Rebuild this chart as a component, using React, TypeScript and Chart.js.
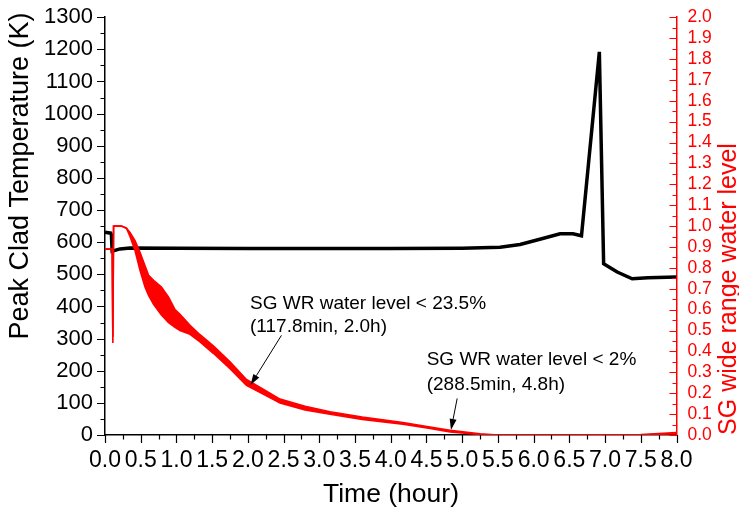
import React, { useEffect, useRef } from 'react';
import { Chart, registerables } from 'chart.js';

Chart.register(...registerables);

// ---- tick values ----
const timeTicks = [0, 0.5, 1, 1.5, 2, 2.5, 3, 3.5, 4, 4.5, 5, 5.5, 6, 6.5, 7, 7.5, 8];
const tempTicks = [0, 100, 200, 300, 400, 500, 600, 700, 800, 900, 1000, 1100, 1200, 1300];
const levelTicks = [0, 0.1, 0.2, 0.3, 0.4, 0.5, 0.6, 0.7, 0.8, 0.9, 1.0, 1.1, 1.2, 1.3, 1.4, 1.5, 1.6, 1.7, 1.8, 1.9, 2.0];

// ---- Peak clad temperature (K) vs time (hour) ----
const cladTime = [0, 0.08, 0.09, 0.1, 0.21, 0.35, 1.0, 2.0, 3.0, 4.0, 5.0, 5.53, 5.81, 6.1, 6.37, 6.55, 6.67, 6.92, 6.98, 7.17, 7.38, 7.6, 8.0];
const cladTemp = [631, 628, 622, 572, 579, 582, 581, 580, 580, 580, 581, 584, 593, 610, 626, 626, 620, 1192, 533, 507, 486, 489, 492];

// ---- SG wide range water level (oscillation envelope) ----
const levelTime = [0, 0.1, 0.11, 0.12, 0.23, 0.3, 0.35, 0.42, 0.49, 0.56, 0.61, 0.68, 0.79, 0.89, 0.98, 1.05, 1.19, 1.33, 1.52, 1.75, 1.98, 2.22, 2.45, 2.8, 3.15, 3.6, 4.17, 4.55, 4.83, 5.25, 5.5, 6.5, 7.5, 8.0];
const levelUpper = [0.89, 0.89, 0.47, 1.0, 1.0, 0.99, 0.97, 0.93, 0.875, 0.81, 0.765, 0.74, 0.708, 0.66, 0.6, 0.578, 0.525, 0.48, 0.425, 0.35, 0.266, 0.218, 0.172, 0.137, 0.111, 0.086, 0.06, 0.038, 0.022, 0.006, 0, 0, 0.002, 0.012];
const levelLower = [0.89, 0.89, 0.44, 1.0, 1.0, 0.99, 0.95, 0.883, 0.788, 0.708, 0.668, 0.625, 0.575, 0.538, 0.515, 0.5, 0.482, 0.446, 0.39, 0.318, 0.238, 0.195, 0.153, 0.12, 0.099, 0.075, 0.052, 0.031, 0.015, 0.002, 0, 0, 0, 0.006];

// ---- annotations ----
const annotationLines = [
  ['SG WR water level < 23.5%', '(117.8min, 2.0h)'],
  ['SG WR water level < 2%', '(288.5min, 4.8h)'],
];
// placement in data units (time, right-axis level)
const annotationPlacement = [
  { t: 2.03, l1: 0.605, l2: 0.493, from: [2.47, 0.477], to: [2.037, 0.239] },
  { t: 4.503, l1: 0.334, l2: 0.215, from: [4.93, 0.175], to: [4.843, 0.024] },
];

const FONT = "'Liberation Sans', Arial, Helvetica, sans-serif";

const overlayPlugin = {
  id: 'overlay',
  afterDraw(chart: any) {
    const { ctx, chartArea: a, scales } = chart;
    const xs = scales.x, ys = scales.y, y2 = scales.y2;
    ctx.save();

    // tick marks
    ctx.lineWidth = 1.2;
    ctx.strokeStyle = '#000';
    ctx.beginPath();
    for (let i = 0; i < timeTicks.length; i++) {
      const px = Math.round(xs.getPixelForValue(timeTicks[i])) + 0.5;
      ctx.moveTo(px, a.bottom);
      ctx.lineTo(px, a.bottom + 8);
      if (i < timeTicks.length - 1) {
        const m = Math.round(xs.getPixelForValue((timeTicks[i] + timeTicks[i + 1]) / 2)) + 0.5;
        ctx.moveTo(m, a.bottom);
        ctx.lineTo(m, a.bottom + 4.5);
      }
    }
    for (let i = 0; i < tempTicks.length; i++) {
      const py = Math.round(ys.getPixelForValue(tempTicks[i])) + 0.5;
      ctx.moveTo(a.left, py);
      ctx.lineTo(a.left - 8, py);
      if (i < tempTicks.length - 1) {
        const m = Math.round(ys.getPixelForValue((tempTicks[i] + tempTicks[i + 1]) / 2)) + 0.5;
        ctx.moveTo(a.left, m);
        ctx.lineTo(a.left - 4.5, m);
      }
    }
    ctx.stroke();

    ctx.strokeStyle = '#ff0000';
    ctx.beginPath();
    for (let i = 0; i < levelTicks.length; i++) {
      const py = Math.round(y2.getPixelForValue(levelTicks[i])) + 0.5;
      ctx.moveTo(a.right, py);
      ctx.lineTo(a.right - 7, py);
      if (i < levelTicks.length - 1) {
        const m = Math.round(y2.getPixelForValue((levelTicks[i] + levelTicks[i + 1]) / 2)) + 0.5;
        ctx.moveTo(a.right, m);
        ctx.lineTo(a.right - 4, m);
      }
    }
    ctx.stroke();

    // axis titles
    ctx.fillStyle = '#000';
    ctx.textAlign = 'center';
    ctx.textBaseline = 'middle';
    ctx.font = `26.5px ${FONT}`;
    ctx.fillText('Time (hour)', 391, 495);

    ctx.save();
    ctx.translate(21, 176);
    ctx.rotate(-Math.PI / 2);
    ctx.font = `27px ${FONT}`;
    ctx.fillText('Peak Clad Temperature (K)', 0, 0);
    ctx.restore();

    ctx.save();
    ctx.translate(729.5, 289);
    ctx.rotate(-Math.PI / 2);
    ctx.fillStyle = '#ff0000';
    ctx.font = `25px ${FONT}`;
    ctx.fillText('SG wide range water level', 0, 0);
    ctx.restore();

    // annotations
    ctx.fillStyle = '#000';
    ctx.strokeStyle = '#000';
    ctx.textAlign = 'left';
    ctx.textBaseline = 'alphabetic';
    ctx.font = `19px ${FONT}`;
    annotationPlacement.forEach((p, k) => {
      const tx = xs.getPixelForValue(p.t);
      ctx.fillText(annotationLines[k][0], tx, y2.getPixelForValue(p.l1));
      ctx.fillText(annotationLines[k][1], tx, y2.getPixelForValue(p.l2));
      const x1 = xs.getPixelForValue(p.from[0]);
      const yA = y2.getPixelForValue(p.from[1]);
      const x2 = xs.getPixelForValue(p.to[0]);
      const yB = y2.getPixelForValue(p.to[1]);
      const ang = Math.atan2(yB - yA, x2 - x1);
      const hl = 11, hw = 3.5;
      const bx = x2 - hl * Math.cos(ang);
      const by = yB - hl * Math.sin(ang);
      ctx.lineWidth = 1;
      ctx.beginPath();
      ctx.moveTo(x1, yA);
      ctx.lineTo(bx, by);
      ctx.stroke();
      ctx.beginPath();
      ctx.moveTo(x2, yB);
      ctx.lineTo(bx + hw * Math.sin(ang), by - hw * Math.cos(ang));
      ctx.lineTo(bx - hw * Math.sin(ang), by + hw * Math.cos(ang));
      ctx.closePath();
      ctx.fill();
    });

    ctx.restore();
  },
};

export default function App() {
  const ref = useRef<HTMLCanvasElement>(null);

  useEffect(() => {
    document.body.style.margin = '0';
    const canvas = ref.current!;
    const chart = new Chart(canvas, {
      type: 'line',
      data: {
        datasets: [
          {
            label: 'SG level upper',
            data: levelTime.map((t, i) => ({ x: t, y: levelUpper[i] })),
            yAxisID: 'y2',
            borderColor: '#ff0000',
            borderWidth: 1.6,
            pointRadius: 0,
            fill: false,
          },
          {
            label: 'SG level lower',
            data: levelTime.map((t, i) => ({ x: t, y: levelLower[i] })),
            yAxisID: 'y2',
            borderColor: '#ff0000',
            backgroundColor: '#ff0000',
            borderWidth: 1.6,
            pointRadius: 0,
            fill: '-1',
          },
          {
            label: 'Peak clad temperature',
            data: cladTime.map((t, i) => ({ x: t, y: cladTemp[i] })),
            yAxisID: 'y',
            borderColor: '#000000',
            borderWidth: 3.5,
            pointRadius: 0,
            fill: false,
          },
        ],
      },
      options: {
        responsive: false,
        animation: false,
        devicePixelRatio: 1,
        layout: { padding: { top: 16, left: 0, right: 0, bottom: 0 } },
        plugins: { legend: { display: false }, tooltip: { enabled: false } },
        scales: {
          x: {
            type: 'linear',
            min: 0,
            max: 8,
            afterFit: (s: any) => { s.height = 79; },
            afterBuildTicks: (s: any) => { s.ticks = timeTicks.map((v) => ({ value: v })); },
            grid: { display: false },
            border: { display: true, color: '#000', width: 1.5 },
            ticks: {
              autoSkip: false,
              maxRotation: 0,
              minRotation: 0,
              padding: 4,
              color: '#000',
              font: { family: FONT, size: 23 },
              callback: (v: any) => Number(v).toFixed(1),
            },
          },
          y: {
            type: 'linear',
            position: 'left',
            min: 0,
            max: 1300,
            afterFit: (s: any) => { s.width = 105; },
            afterBuildTicks: (s: any) => { s.ticks = tempTicks.map((v) => ({ value: v })); },
            grid: { display: false },
            border: { display: true, color: '#000', width: 1.5 },
            ticks: {
              autoSkip: false,
              padding: 4,
              color: '#000',
              font: { family: FONT, size: 22 },
              callback: (v: any) => String(v),
            },
          },
          y2: {
            type: 'linear',
            position: 'right',
            min: 0,
            max: 2,
            afterFit: (s: any) => { s.width = 62.5; },
            afterBuildTicks: (s: any) => { s.ticks = levelTicks.map((v) => ({ value: v })); },
            grid: { display: false },
            border: { display: true, color: '#ff0000', width: 1.5 },
            ticks: {
              autoSkip: false,
              padding: 3,
              color: '#ff0000',
              font: { family: FONT, size: 17.5 },
              callback: (v: any) => Number(v).toFixed(1),
            },
          },
        },
      },
      plugins: [overlayPlugin],
    });
    return () => chart.destroy();
  }, []);

  return (
    <div style={{ width: 739, height: 514 }}>
      <canvas ref={ref} width={739} height={514} style={{ display: 'block', width: 739, height: 514 }} />
    </div>
  );
}
